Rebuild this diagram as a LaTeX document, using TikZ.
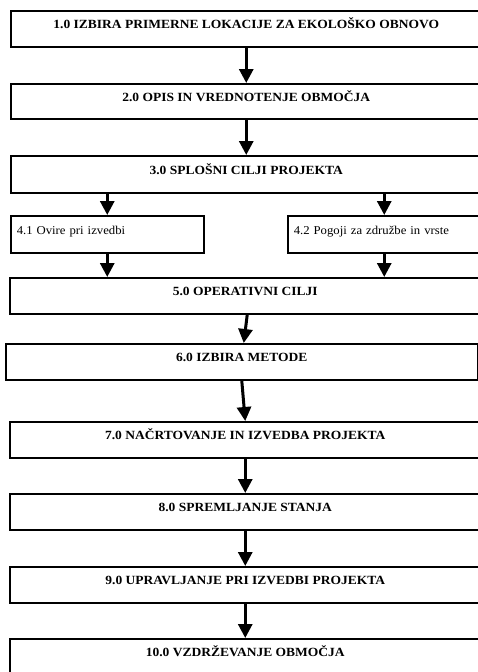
\documentclass[tikz,border=0pt]{standalone}
\usepackage{fontspec}
\setmainfont{Liberation Serif}
\newfontfamily\capsfont[FakeStretch=1.08]{Liberation Serif}
\newfontfamily\lowfont[FakeStretch=1.06]{Liberation Serif}
\usetikzlibrary{arrows.meta,calc}
\begin{document}
\begin{tikzpicture}[x=1pt,y=-1pt,
  box/.style={draw,line width=1.5pt,rectangle,anchor=north west,inner sep=0pt,
    minimum height=36pt,text height=8pt,text depth=8pt},
  mainbox/.style={box,minimum width=471pt,font=\capsfont\bfseries\fontsize{12.5}{14}\selectfont},
  subbox/.style={box,minimum width=193pt,text width=181pt,align=left,
    font=\lowfont\fontsize{12}{14}\selectfont},
  arr/.style={line width=3pt,-{Triangle[width=14pt,length=14pt]}}]
\useasboundingbox (0,0) rectangle (478,672);
\clip (0,0) rectangle (478,672);
\node[mainbox] (b1) at (10,10) {1.0 IZBIRA PRIMERNE LOKACIJE ZA EKOLOŠKO OBNOVO};
\node[mainbox,minimum height=35pt] (b2) at (10,83) {2.0 OPIS IN VREDNOTENJE OBMOČJA};
\node[mainbox,minimum height=37pt] (b3) at (10,155) {3.0 SPLOŠNI CILJI PROJEKTA};
\node[subbox,minimum height=37pt] (b41) at (10,215) {4.1 Ovire pri izvedbi};
\node[subbox,minimum height=37pt] (b42) at (287,215) {4.2 Pogoji za združbe in vrste};
\node[mainbox] (b5) at (9,277) {5.0 OPERATIVNI CILJI};
\node[mainbox,minimum width=472pt] (b6) at (5,343) {6.0 IZBIRA METODE};
\node[mainbox] (b7) at (9,421) {7.0 NAČRTOVANJE IN IZVEDBA PROJEKTA};
\node[mainbox] (b8) at (9,493) {8.0 SPREMLJANJE STANJA};
\node[mainbox] (b9) at (9,566) {9.0 UPRAVLJANJE PRI IZVEDBI PROJEKTA};
\node[mainbox] (b10) at (9,638) {10.0 VZDRŽEVANJE OBMOČJA};
\draw[arr] (b1.south) -- (b2.north);
\draw[arr] (b2.south) -- (b3.north);
\draw[arr] (b3.south -| b41.north) -- (b41.north);
\draw[arr] (b3.south -| b42.north) -- (b42.north);
\draw[arr] (b41.south) -- (b41.south |- b5.north);
\draw[arr] (b42.south) -- (b42.south |- b5.north);
\draw[arr] ($(b5.south)+(2,0)$) -- ($(b6.north)+(2,0)$);
\draw[arr] (b6.south) -- (b7.north);
\draw[arr] (b7.south) -- (b8.north);
\draw[arr] (b8.south) -- (b9.north);
\draw[arr] (b9.south) -- (b10.north);
\end{tikzpicture}
\end{document}
